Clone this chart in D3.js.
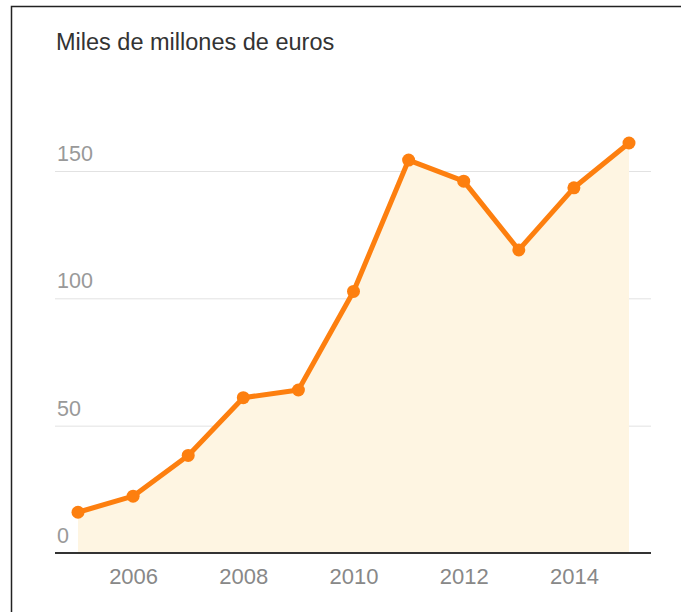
<!DOCTYPE html>
<html>
<head>
<meta charset="utf-8">
<script src="https://cdn.jsdelivr.net/npm/d3@7"></script>
<style>
  html, body { margin: 0; padding: 0; background: #fff; }
  svg { display: block; font-family: "Liberation Sans", Arial, sans-serif; }
</style>
</head>
<body>
<svg id="chart" width="681" height="612"></svg>
<script>
// data
var years = [2005, 2006, 2007, 2008, 2009, 2010, 2011, 2012, 2013, 2014, 2015];
var values = [16, 22.3, 38.3, 61, 64, 102.7, 154.3, 146, 119, 143.4, 161];
var yTicks = [0, 50, 100, 150];
var xTicks = [2006, 2008, 2010, 2012, 2014];
var title = "Miles de millones de euros";

var svg = d3.select("#chart");

var left = 55, right = 651, bottom = 553;

var x = d3.scaleLinear().domain([2005, 2015]).range([78, 629]);
var y = d3.scaleLinear().domain([0, 150]).range([bottom, 171]);

var data = years.map(function(d, i) { return {year: d, value: values[i]}; });

// frame (only top and left edges are visible in the crop)
svg.append("path")
    .attr("d", "M11.5,612V6.5H681")
    .attr("fill", "none")
    .attr("stroke", "#222")
    .attr("stroke-width", 1.5);

svg.append("text")
    .attr("x", 56)
    .attr("y", 50)
    .attr("fill", "#333")
    .style("font-size", "23.5px")
    .text(title);

// gridlines
svg.append("g").selectAll("line")
    .data(yTicks.filter(function(d) { return d > 0; }))
    .enter().append("line")
    .attr("x1", left).attr("x2", right)
    .attr("y1", function(d) { return y(d) + 0.5; })
    .attr("y2", function(d) { return y(d) + 0.5; })
    .attr("stroke", "#e2e2e2")
    .attr("stroke-width", 1);

// area
var area = d3.area()
    .x(function(d) { return x(d.year); })
    .y0(y(0))
    .y1(function(d) { return y(d.value); });

svg.append("path")
    .datum(data)
    .attr("d", area)
    .attr("fill", "#fef5e2");

// y tick labels, above the gridlines
svg.append("g").selectAll("text")
    .data(yTicks)
    .enter().append("text")
    .attr("x", 57)
    .attr("y", function(d) { return y(d) - 10; })
    .attr("fill", "#999")
    .style("font-size", "21.5px")
    .text(function(d) { return d; });

// x axis
var xAxis = d3.axisBottom(x)
    .tickValues(xTicks)
    .tickFormat(d3.format("d"))
    .tickSize(0)
    .tickPadding(15);

var gx = svg.append("g")
    .attr("transform", "translate(0," + bottom + ")")
    .call(xAxis);
gx.select(".domain").remove();
gx.selectAll("text")
    .attr("fill", "#888")
    .style("font-size", "22px")
    .style("font-family", "'Liberation Sans', Arial, sans-serif");

svg.append("line")
    .attr("x1", left).attr("x2", right)
    .attr("y1", bottom).attr("y2", bottom)
    .attr("stroke", "#333")
    .attr("stroke-width", 2);

// line + points
var line = d3.line()
    .x(function(d) { return x(d.year); })
    .y(function(d) { return y(d.value); });

svg.append("path")
    .datum(data)
    .attr("d", line)
    .attr("fill", "none")
    .attr("stroke", "#fd7f0f")
    .attr("stroke-width", 5)
    .attr("stroke-linejoin", "round");

svg.append("g").selectAll("circle")
    .data(data)
    .enter().append("circle")
    .attr("cx", function(d) { return x(d.year); })
    .attr("cy", function(d) { return y(d.value); })
    .attr("r", 6.5)
    .attr("fill", "#fd7f0f");
</script>
</body>
</html>
